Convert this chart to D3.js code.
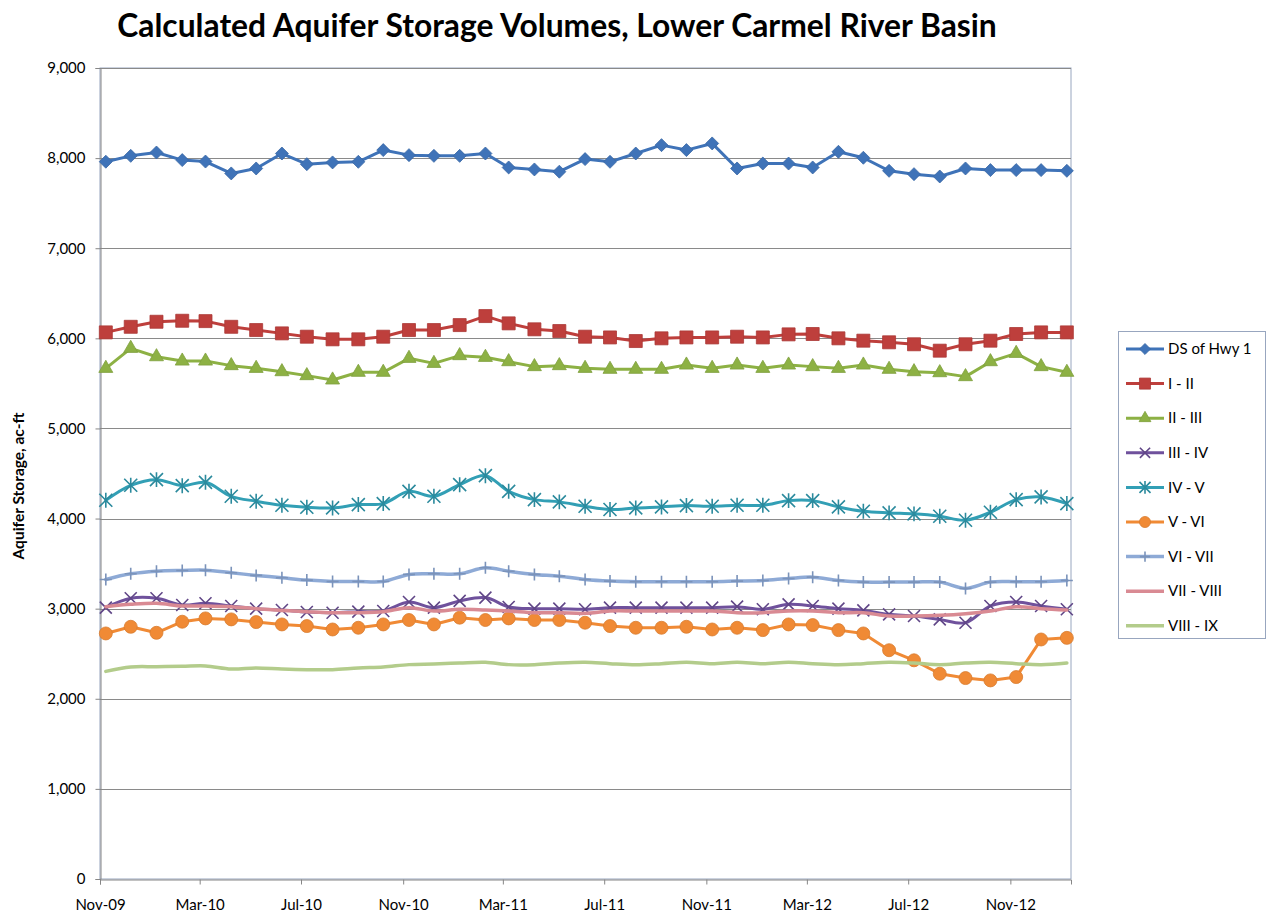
<!DOCTYPE html>
<html>
<head>
<meta charset="utf-8">
<script src="https://cdn.jsdelivr.net/npm/d3@7"></script>
<style>
  body { margin: 0; background: #fff; }
  svg { display: block; }
  text { font-family: Lato, "Open Sans", "DejaVu Sans", sans-serif; fill: #000; }
</style>
</head>
<body>
<svg id="chart" width="1269" height="919"></svg>
<script>
// Monthly observation months (one value per month per reach)
const months = [
  "2009-11","2009-12","2010-01","2010-02","2010-03","2010-04","2010-05","2010-06","2010-07","2010-08",
  "2010-09","2010-10","2010-11","2010-12","2011-01","2011-02","2011-03","2011-04","2011-05","2011-06",
  "2011-07","2011-08","2011-09","2011-10","2011-11","2011-12","2012-01","2012-02","2012-03","2012-04",
  "2012-05","2012-06","2012-07","2012-08","2012-09","2012-10","2012-11","2012-12","2013-01"
];
const tickMonths = ["2009-11","2010-03","2010-07","2010-11","2011-03","2011-07","2011-11","2012-03","2012-07","2012-11"];
const yTicks = [0, 1000, 2000, 3000, 4000, 5000, 6000, 7000, 8000, 9000];

const seriesNames = ["DS of Hwy 1","I - II","II - III","III - IV","IV - V","V - VI","VI - VII","VII - VIII","VIII - IX"];

// Storage by reach, ac-ft
const dsHwy1 = [7960,8025,8062,7978,7962,7830,7885,8051,7933,7952, 7959,8089,8033,8025,8025,8051,7896,7874,7849,7989, 7959,8051,8144,8089,8163,7885,7940,7940,7896,8070, 8004,7859,7822,7796,7885,7867,7867,7867,7859];
const reach1to2 = [6066,6128,6184,6195,6191,6128,6092,6055,6018,5989, 5989,6018,6092,6092,6147,6247,6166,6100,6081,6018, 6010,5970,6000,6010,6010,6018,6010,6044,6048,6000, 5974,5956,5934,5863,5934,5974,6048,6066,6066];
const reach2to3 = [5667,5889,5796,5748,5748,5697,5667,5630,5586,5538, 5623,5623,5778,5722,5808,5789,5741,5686,5697,5667, 5656,5656,5656,5704,5667,5704,5667,5704,5686,5667, 5704,5656,5630,5619,5575,5741,5833,5686,5623];
const reach3to4 = [3011,3115,3115,3041,3060,3030,3000,2985,2963,2955, 2967,2974,3074,3011,3086,3123,3019,3000,3000,2993, 3011,3011,3011,3011,3011,3022,2993,3048,3030,3000, 2981,2937,2918,2881,2844,3030,3074,3030,2993];
const reach4to5 = [4203,4369,4432,4365,4402,4247,4192,4147,4125,4118, 4155,4166,4302,4247,4376,4476,4302,4210,4185,4136, 4100,4118,4129,4144,4136,4147,4147,4199,4199,4129, 4081,4063,4052,4026,3981,4070,4210,4240,4166];
const reach5to6 = [2725,2799,2732,2855,2892,2881,2851,2825,2807,2769, 2788,2825,2874,2825,2900,2874,2892,2874,2874,2844, 2807,2788,2788,2799,2769,2788,2762,2825,2818,2762, 2725,2539,2427,2278,2230,2204,2241,2658,2676];
const reach6to7 = [3324,3387,3416,3424,3427,3398,3369,3343,3317,3302, 3302,3302,3380,3387,3387,3454,3416,3380,3361,3324, 3306,3299,3299,3299,3299,3306,3313,3335,3350,3313, 3295,3295,3295,3295,3225,3295,3299,3299,3313];
const reach7to8 = [3022,3048,3060,3030,3030,3022,3000,2981,2967,2955, 2955,2967,3011,2974,2993,2985,2974,2955,2955,2948, 2974,2974,2974,2974,2974,2955,2955,2974,2974,2955, 2955,2918,2918,2926,2944,2974,3022,3000,2985];
const reach8to9 = [2304,2353,2356,2360,2364,2330,2342,2330,2323,2323, 2342,2353,2379,2386,2397,2405,2379,2379,2397,2405, 2390,2379,2390,2405,2390,2405,2390,2405,2390,2379, 2390,2405,2397,2379,2397,2405,2390,2379,2397];

const seriesValues = [dsHwy1, reach1to2, reach2to3, reach3to4, reach4to5, reach5to6, reach6to7, reach7to8, reach8to9];

// Appearance of each series
const styles = [
  { color: "#3F73B8", marker: "diamond",  size: 13, width: 3,   smooth: false },
  { color: "#BE3F3C", marker: "square",   size: 13, width: 3,   smooth: false },
  { color: "#8DB144", marker: "triangle", size: 14, width: 3,   smooth: false },
  { color: "#6F519C", marker: "x",        size: 12, width: 3,   smooth: true  },
  { color: "#329FB5", marker: "star",     size: 13, width: 3,   smooth: true  },
  { color: "#F08A35", marker: "circle",   size: 13, width: 3,   smooth: false },
  { color: "#8EAAD6", marker: "plus",     size: 12, width: 3.5, smooth: true  },
  { color: "#D98A93", marker: "none",     size: 0,  width: 3.5, smooth: true  },
  { color: "#B3CC8B", marker: "none",     size: 0,  width: 3.5, smooth: true  }
];

const svg = d3.select("#chart");
const plot = { left: 100, right: 1071, top: 68, bottom: 879 };
const parse = d3.timeParse("%Y-%m-%d");
const dates = months.map(m => parse(m + "-08"));
const tickDates = tickMonths.map(m => parse(m + "-01"));

const x = d3.scaleTime()
  .domain([parse("2009-11-01"), parse("2013-01-13")])
  .range([plot.left, plot.right]);
const y = d3.scaleLinear().domain([0, 9000]).range([plot.bottom, plot.top]);

// Plot frame and horizontal gridlines
svg.append("rect")
  .attr("x", plot.left).attr("y", plot.top)
  .attr("width", plot.right - plot.left).attr("height", plot.bottom - plot.top)
  .attr("fill", "#fff").attr("stroke", "#98A6BF").attr("stroke-width", 1);

svg.append("g").selectAll("line")
  .data(yTicks.filter(v => v > 0))
  .join("line")
  .attr("x1", plot.left).attr("x2", plot.right)
  .attr("y1", d => Math.round(y(d)) + 0.5).attr("y2", d => Math.round(y(d)) + 0.5)
  .attr("stroke", "#8A8A8A").attr("stroke-width", 1);

// Axes
const yAxis = svg.append("g")
  .attr("transform", `translate(${plot.left + 0.5},0)`)
  .call(d3.axisLeft(y).tickValues(yTicks).tickSize(5).tickPadding(10).tickFormat(d3.format(",")));
const xAxis = svg.append("g")
  .attr("transform", `translate(0,${plot.bottom + 0.5})`)
  .call(d3.axisBottom(x).tickValues(tickDates).tickSize(5).tickPadding(15).tickFormat(d3.timeFormat("%b-%y")));
[yAxis, xAxis].forEach(g => {
  g.select(".domain").attr("stroke", "#868686").attr("stroke-width", 1);
  g.selectAll(".tick line").attr("stroke", "#868686");
  g.selectAll(".tick text").attr("font-size", 15).attr("font-family", "Lato, 'Open Sans', sans-serif").attr("fill", "#000");
});

// Marker shapes
function markerPath(type, s) {
  const h = s / 2;
  switch (type) {
    case "diamond":  return `M0,${-h}L${h},0L0,${h}L${-h},0Z`;
    case "square":   return `M${-h},${-h}H${h}V${h}H${-h}Z`;
    case "triangle": { const t = s * 0.866; return `M0,${-t * 2 / 3}L${h},${t / 3}L${-h},${t / 3}Z`; }
    case "x":        return `M${-h},${-h}L${h},${h}M${-h},${h}L${h},${-h}`;
    case "star":     return `M${-h},${-h}L${h},${h}M${-h},${h}L${h},${-h}M0,${-h * 1.15}V${h * 1.15}`;
    case "plus":     return `M0,${-h}V${h}M${-h},0H${h}`;
  }
  return "";
}
const strokeOnly = new Set(["x", "star", "plus"]);

function drawMarker(g, st, cx, cy) {
  if (st.marker === "none") return;
  if (st.marker === "circle") {
    g.append("circle").attr("cx", cx).attr("cy", cy).attr("r", st.size / 2)
      .attr("fill", st.color).attr("stroke", d3.color(st.color).darker(0.3)).attr("stroke-width", 0.8);
    return;
  }
  const p = g.append("path").attr("d", markerPath(st.marker, st.size))
    .attr("transform", `translate(${cx},${cy})`);
  if (strokeOnly.has(st.marker)) {
    p.attr("fill", "none").attr("stroke", d3.color(st.color).darker(0.4)).attr("stroke-width", 1.6);
  } else {
    p.attr("fill", st.color).attr("stroke", d3.color(st.color).darker(0.3)).attr("stroke-width", 0.8);
  }
}

// Series lines and markers
const plotLayer = svg.append("g");
seriesValues.forEach((vals, i) => {
  const st = styles[i];
  const pts = vals.map((v, k) => ({ date: dates[k], v }));
  const line = d3.line()
    .x(d => x(d.date)).y(d => y(d.v))
    .curve(st.smooth ? d3.curveCatmullRom.alpha(0.5) : d3.curveLinear);
  const g = plotLayer.append("g");
  g.append("path").datum(pts).attr("d", line)
    .attr("fill", "none").attr("stroke", st.color).attr("stroke-width", st.width)
    .attr("stroke-linejoin", "round").attr("stroke-linecap", "round");
  pts.forEach(d => drawMarker(g, st, x(d.date), y(d.v)));
});

// Title, fitted to its width
const title = svg.append("text")
  .attr("x", 557).attr("y", 37).attr("text-anchor", "middle")
  .attr("font-weight", "bold").attr("font-size", 30)
  .text("Calculated Aquifer Storage Volumes, Lower Carmel River Basin");
const tw = title.node().getComputedTextLength();
title.attr("font-size", 30 * 880 / tw);

// Y axis title
svg.append("text")
  .attr("transform", "translate(24,486) rotate(-90)")
  .attr("text-anchor", "middle").attr("font-weight", "bold").attr("font-size", 15.5)
  .text("Aquifer Storage, ac-ft");

// Legend
const legend = svg.append("g");
legend.append("rect")
  .attr("x", 1118.5).attr("y", 331.5).attr("width", 147).attr("height", 307)
  .attr("fill", "#fff").attr("stroke", "#98A6BF").attr("stroke-width", 1);
seriesNames.forEach((name, i) => {
  const st = styles[i];
  const ly = 349 + i * 34.6;
  const g = legend.append("g");
  g.append("line").attr("x1", 1126).attr("x2", 1164).attr("y1", ly).attr("y2", ly)
    .attr("stroke", st.color).attr("stroke-width", st.width);
  drawMarker(g, Object.assign({}, st, { size: st.size * 0.85 }), 1145, ly);
  g.append("text").attr("x", 1168).attr("y", ly).attr("dy", "0.35em")
    .attr("font-size", 15).text(name);
});
</script>
</body>
</html>
